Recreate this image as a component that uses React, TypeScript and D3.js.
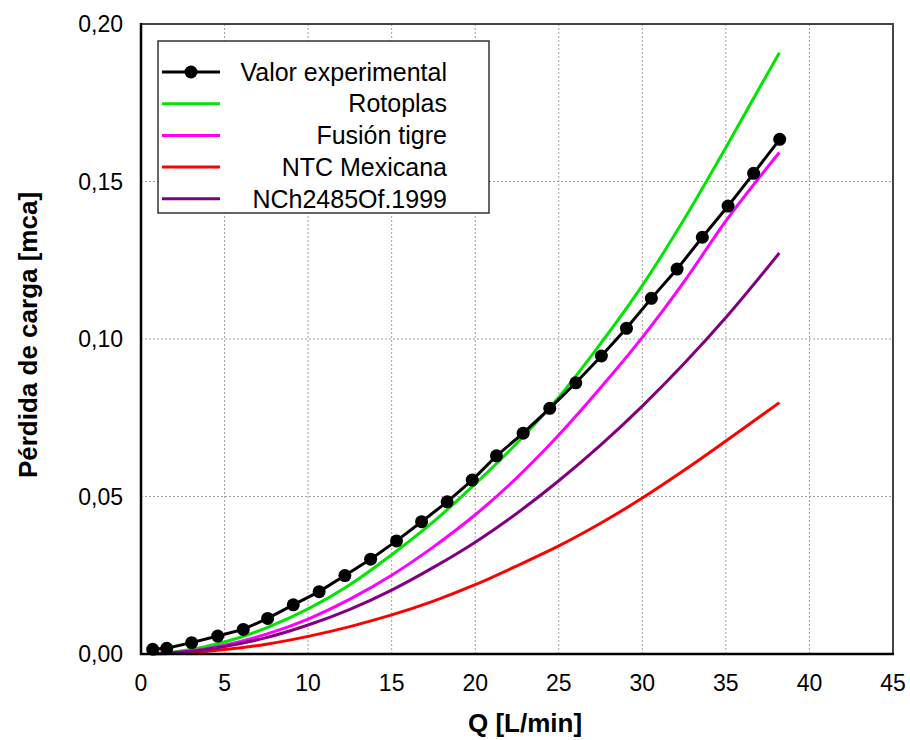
import React, { useEffect } from 'react';
import * as d3 from 'd3';

// Experimental data (Q [L/min], head loss [mca])
const qExp = [0.70, 1.54, 3.03, 4.59, 6.12, 7.58, 9.11, 10.66, 12.20, 13.74, 15.29, 16.79, 18.32, 19.82, 21.27, 22.87, 24.46, 26.02, 27.55, 29.05, 30.54, 32.08, 33.59, 35.13, 36.66, 38.22];
const hExp = [0.0015, 0.0018, 0.0036, 0.0057, 0.0078, 0.0113, 0.0156, 0.0198, 0.0249, 0.0301, 0.0359, 0.0420, 0.0483, 0.0552, 0.0629, 0.0701, 0.0780, 0.0861, 0.0946, 0.1034, 0.1129, 0.1222, 0.1323, 0.1422, 0.1526, 0.1634];

// Model curves
const qModel = [0.8, 2.5, 5, 7.5, 10, 12.5, 15, 17.5, 20, 22.5, 25, 27.5, 30, 32.5, 35, 38.2];
const rotoplas = [0.0001, 0.0010, 0.0038, 0.0083, 0.0143, 0.0220, 0.0315, 0.0420, 0.0540, 0.0670, 0.0815, 0.0985, 0.1170, 0.1380, 0.1608, 0.1909];
const fusionTigre = [0.0001, 0.0007, 0.0028, 0.0063, 0.0111, 0.0174, 0.0250, 0.0340, 0.0442, 0.0560, 0.0695, 0.0845, 0.1005, 0.1182, 0.1375, 0.1592];
const ntcMexicana = [0.00004, 0.0003, 0.0014, 0.0031, 0.0056, 0.0087, 0.0124, 0.0168, 0.0220, 0.0280, 0.0343, 0.0415, 0.0495, 0.0583, 0.0676, 0.0798];
const nch2485 = [0.0001, 0.0006, 0.0024, 0.0052, 0.0092, 0.0142, 0.0203, 0.0275, 0.0355, 0.0447, 0.0550, 0.0663, 0.0787, 0.0922, 0.1068, 0.1273];

const xTicks = [0, 5, 10, 15, 20, 25, 30, 35, 40, 45];
const yTicks = [0, 0.05, 0.1, 0.15, 0.2];

const legendLabels = ['Valor experimental', 'Rotoplas', 'Fusión tigre', 'NTC Mexicana', 'NCh2485Of.1999'];
const seriesColors = ['#000000', '#00e600', '#ff00ff', '#ff0000', '#800080'];

const W = 910;
const H = 740;
const L = 141, R = 893, T = 24, B = 654;
const FONT = '"Liberation Sans", Arial, sans-serif';

export default function App() {
  useEffect(() => {
    document.body.style.margin = '0';
  }, []);

  const x = d3.scaleLinear().domain([0, 45]).range([L, R]);
  const y = d3.scaleLinear().domain([0, 0.2]).range([B, T]);

  const modelLine = d3
    .line<[number, number]>()
    .x((d) => x(d[0]))
    .y((d) => y(d[1]))
    .curve(d3.curveMonotoneX);
  const expLine = d3
    .line<[number, number]>()
    .x((d) => x(d[0]))
    .y((d) => y(d[1]));

  const models = [
    { vals: rotoplas, color: seriesColors[1] },
    { vals: fusionTigre, color: seriesColors[2] },
    { vals: ntcMexicana, color: seriesColors[3] },
    { vals: nch2485, color: seriesColors[4] },
  ];

  const expPts: [number, number][] = qExp.map((q, i) => [q, hExp[i]]);

  const fmtY = (v: number) => v.toFixed(2).replace('.', ',');

  const legX = 158, legY = 41, legW = 331, legH = 172;
  const rowH = 31.7;

  return (
    <svg width={W} height={H} style={{ display: 'block', background: '#fff' }} fontFamily={FONT}>
      {/* grid */}
      <g>
        {xTicks.slice(1, -1).map((t) => (
          <line key={'gx' + t} x1={x(t)} x2={x(t)} y1={T} y2={B} stroke="#a0a0a0" strokeWidth={1} strokeDasharray="2,2" />
        ))}
        {yTicks.slice(1, -1).map((t) => (
          <line key={'gy' + t} x1={L} x2={R} y1={y(t)} y2={y(t)} stroke="#a0a0a0" strokeWidth={1} strokeDasharray="2,2" />
        ))}
      </g>

      {/* models */}
      {models.map((m, i) => (
        <path
          key={'m' + i}
          d={modelLine(qModel.map((q, j) => [q, m.vals[j]] as [number, number])) || ''}
          fill="none"
          stroke={m.color}
          strokeWidth={3}
        />
      ))}

      {/* experimental */}
      <path d={expLine(expPts) || ''} fill="none" stroke="#000" strokeWidth={3} />
      {expPts.map((p, i) => (
        <circle key={'p' + i} cx={x(p[0])} cy={y(p[1])} r={6.5} fill="#000" />
      ))}

      {/* frame */}
      <rect x={L} y={T} width={R - L} height={B - T} fill="none" stroke="#444" strokeWidth={2} />
      <line x1={L} x2={L} y1={T - 1} y2={B + 1} stroke="#000" strokeWidth={2.5} />
      <line x1={L - 1} x2={R + 1} y1={B} y2={B} stroke="#000" strokeWidth={2.5} />

      {/* x tick labels */}
      {xTicks.map((t) => (
        <text key={'tx' + t} x={x(t)} y={B + 37} textAnchor="middle" fontSize={23} fill="#000">
          {t}
        </text>
      ))}
      {/* y tick labels */}
      {yTicks.map((t) => (
        <text key={'ty' + t} x={L - 18} y={y(t)} dy="0.35em" textAnchor="end" fontSize={23} fill="#000">
          {fmtY(t)}
        </text>
      ))}

      {/* axis titles */}
      <text x={(L + R) / 2 + 8} y={732} textAnchor="middle" fontSize={26} fontWeight="bold" fill="#000">
        Q [L/min]
      </text>
      <text
        transform={`translate(37,${(T + B) / 2 - 4}) rotate(-90)`}
        textAnchor="middle"
        fontSize={26}
        fontWeight="bold"
        fill="#000"
      >
        Pérdida de carga [mca]
      </text>

      {/* legend */}
      <g>
        <rect x={legX} y={legY} width={legW} height={legH} fill="#fff" stroke="#333" strokeWidth={1.5} />
        {legendLabels.map((lab, i) => {
          const cy = legY + 31 + i * rowH;
          return (
            <g key={'lg' + i}>
              <line x1={162} x2={220} y1={cy} y2={cy} stroke={seriesColors[i]} strokeWidth={3} />
              {i === 0 && <circle cx={191} cy={cy} r={6.5} fill="#000" />}
              <text x={447} y={cy} dy="0.35em" textAnchor="end" fontSize={25} fill="#000">
                {lab}
              </text>
            </g>
          );
        })}
      </g>
    </svg>
  );
}
